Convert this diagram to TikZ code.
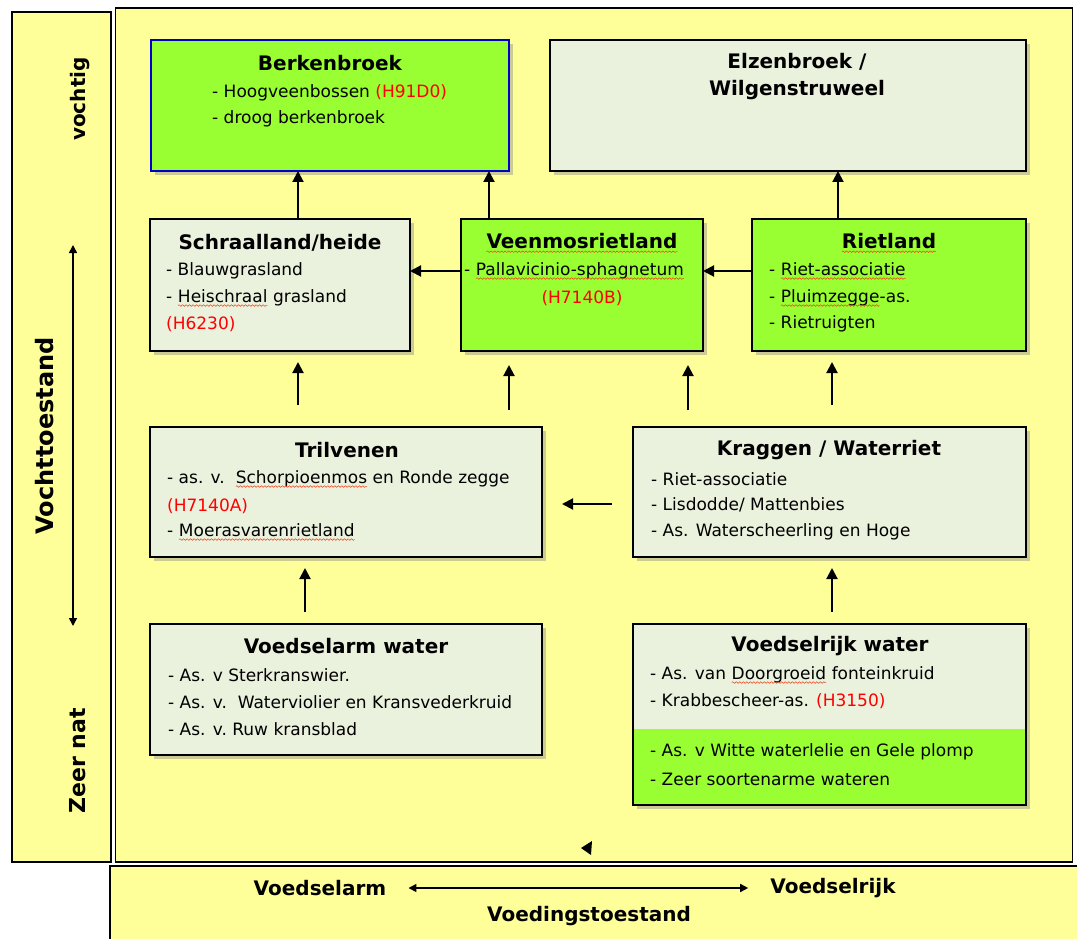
\documentclass[tikz,border=0pt]{standalone}
\usepackage{fontspec}
\setmainfont{DejaVu Sans}
\usetikzlibrary{arrows.meta,shadows,decorations.pathmorphing}
\definecolor{bgyel}{RGB}{255,255,153}
\definecolor{lgreen}{RGB}{153,255,51}
\definecolor{lgray}{RGB}{234,241,221}
\definecolor{hred}{RGB}{255,0,0}
\definecolor{wred}{RGB}{240,60,20}
\definecolor{bblue}{RGB}{0,0,204}
\newcommand\spw[1]{\tikz[baseline=(w.base)]{\node[inner sep=0pt,outer sep=0pt] (w) {#1};%
  \draw[wred,line width=0.5pt,decorate,decoration={snake,amplitude=0.8pt,segment length=3.5pt}]
   ([yshift=-3.2pt]w.base west) -- ([yshift=-3.2pt]w.base east);}}
\tikzset{
  panel/.style={draw=black,line width=1.6pt,fill=bgyel,inner sep=0pt},
  box/.style={draw=black,line width=1.8pt,inner sep=0pt,outer sep=0pt,
    drop shadow={shadow xshift=4pt,shadow yshift=-4pt,fill=black!45,opacity=0.45}},
  greenbox/.style={box,fill=lgreen},
  graybox/.style={box,fill=lgray},
  ttl/.style={font=\bfseries\fontsize{20}{24}\selectfont,inner sep=0pt},
  ln/.style={font=\fontsize{17}{20}\selectfont,anchor=west,inner sep=0pt},
  rd/.style={ln,text=hred},
  arr/.style={line width=2pt,-{Triangle[length=11pt,width=11pt]}},
  darr/.style={line width=1.5pt,{Triangle[length=8pt,width=8pt]}-{Triangle[length=8pt,width=8pt]}},
  axl/.style={font=\bfseries\fontsize{20}{24}\selectfont,inner sep=0pt}
}
\begin{document}
\begin{tikzpicture}[x=1pt,y=-1pt]
\useasboundingbox (0,0) rectangle (1077,939);
\fill[white] (0,0) rectangle (1077,939);
% panels
\node[panel,minimum width=99pt,minimum height=850pt] (left) at (61.5,437) {};
\node[panel,minimum width=957pt,minimum height=854pt] (main) at (594,435) {};
\node[panel,minimum width=970pt,minimum height=80pt] (bottom) at (595,906) {};

% boxes
\node[greenbox,draw=bblue,minimum width=358pt,minimum height=131pt] (berk) at (330,105.5) {};
\node[graybox,minimum width=476pt,minimum height=131pt] (elz) at (788,105.5) {};
\node[graybox,minimum width=260pt,minimum height=132pt] (schr) at (280,285) {};
\node[greenbox,minimum width=242pt,minimum height=132pt] (veen) at (582,285) {};
\node[greenbox,minimum width=274pt,minimum height=132pt] (riet) at (889,285) {};
\node[graybox,minimum width=392pt,minimum height=130pt] (tril) at (346,492) {};
\node[graybox,minimum width=393pt,minimum height=130pt] (krag) at (829.5,492) {};
\node[graybox,minimum width=392pt,minimum height=131pt] (varm) at (346,689.5) {};
\node[graybox,minimum width=393pt,minimum height=181pt] (vrijk) at (829.5,714.5) {};
\fill[lgreen] (vrijk.west |- 0,729) rectangle (vrijk.south east);
\draw[line width=1.8pt] (vrijk.north west) rectangle (vrijk.south east);

% texts Berkenbroek
\node[ttl] (berkT) at (330,63) {Berkenbroek};
\node[ln] (berk1) at (212,93) {- Hoogveenbossen \textcolor{hred}{(H91D0)}};
\node[ln] (berk2) at (212,119) {- droog berkenbroek};
% Elzenbroek
\node[ttl,align=center] (elzT) at (797,77) {Elzenbroek /\\[3pt]Wilgenstruweel};
% Schraalland
\node[ttl] (schrT) at (280,243) {Schraalland/heide};
\node[ln] (schr1) at (166,271) {- Blauwgrasland};
\node[ln] (schr2) at (166,298) {- \spw{Heischraal} grasland};
\node[rd] (schr3) at (166,324) {(H6230)};
% Veenmos
\node[ttl] (veenT) at (582,243) {\spw{Veenmosrietland}};
\node[ln] (veen1) at (464,271) {- \spw{Pallavicinio-sphagnetum}};
\node[ttl,font=\fontsize{17}{20}\selectfont,text=hred] (veen2) at (582,298) {(H7140B)};
% Rietland
\node[ttl] (rietT) at (889,243) {\spw{Rietland}};
\node[ln] (riet1) at (769,271) {- \spw{Riet-associatie}};
\node[ln] (riet2) at (769,298) {- \spw{Pluimzegge}-as.};
\node[ln] (riet3) at (769,324) {- Rietruigten};
% Trilvenen
\node[ttl] (trilT) at (347,450) {Trilvenen};
\node[ln] (tril1) at (167,479) {- as. v.\ \ \spw{Schorpioenmos} en Ronde zegge};
\node[rd] (tril2) at (167,506) {(H7140A)};
\node[ln] (tril3) at (167,532) {- \spw{Moerasvarenrietland}};
% Kraggen
\node[ttl] (kragT) at (829,450) {Kraggen / Waterriet};
\node[ln] (krag1) at (651,479) {- Riet-associatie};
\node[ln] (krag2) at (651,505) {- Lisdodde/ Mattenbies};
\node[ln] (krag3) at (651,532) {- As. Waterscheerling en Hoge};
% Voedselarm water
\node[ttl] (varmT) at (346,646) {Voedselarm water};
\node[ln] (varm1) at (168,675) {- As. v Sterkranswier.};
\node[ln] (varm2) at (168,702) {- As. v.\ \ Waterviolier en Kransvederkruid};
\node[ln] (varm3) at (168,729) {- As. v.\ Ruw kransblad};
% Voedselrijk water
\node[ttl] (vrijkT) at (830,646) {Voedselrijk water};
\node[ln] (vrijk1) at (650,675) {- As. van \spw{Doorgroeid} fonteinkruid};
\node[ln] (vrijk2) at (650,701) {- Krabbescheer-as. \textcolor{hred}{(H3150)}};
\node[ln] (vrijk3) at (650,752) {- As. v\ Witte waterlelie en Gele plomp};
\node[ln] (vrijk4) at (650,779) {- Zeer soortenarme wateren};

% arrows top row
\draw[arr] (schr.north -| 298,0) -- (berk.south -| 298,0);
\draw[arr] (veen.north -| 489,0) -- (berk.south -| 489,0);
\draw[arr] (riet.north -| 838,0) -- (elz.south -| 838,0);
\draw[arr] (veen.west |- 0,271) -- (schr.east |- 0,271);
\draw[arr] (riet.west |- 0,271) -- (veen.east |- 0,271);
% arrows middle
\draw[arr,shorten <=22pt,shorten >=11pt] (tril.north -| 298,0) -- (schr.south -| 298,0);
\draw[arr,shorten <=17pt,shorten >=14pt] (tril.north -| 509,0) -- (veen.south -| 509,0);
\draw[arr,shorten <=17pt,shorten >=14pt] (krag.north -| 688,0) -- (veen.south -| 688,0);
\draw[arr,shorten <=22pt,shorten >=11pt] (krag.north -| 832,0) -- (riet.south -| 832,0);
\draw[arr,shorten <=21pt,shorten >=20pt] (krag.west |- 0,504) -- (tril.east |- 0,504);
% arrows bottom
\draw[arr,shorten <=12pt,shorten >=11pt] (varm.north -| 305,0) -- (tril.south -| 305,0);
\draw[arr,shorten <=12pt,shorten >=11pt] (vrijk.north -| 832,0) -- (krag.south -| 832,0);
% stray arrowhead
\fill (581,848) -- (592,841) -- (591,855) -- cycle;

% left axis
\node[axl,rotate=90] (vocht) at (80,99) {vochtig};
\node[axl,rotate=90,font=\bfseries\fontsize{24}{28}\selectfont] (vtoe) at (45,436) {Vochttoestand};
\node[axl,rotate=90,font=\bfseries\fontsize{22}{26}\selectfont] (zeer) at (78,761) {Zeer nat};
\coordinate (vtop) at (73,245);
\coordinate (vbot) at (73,626);
\draw[darr] (vtop) -- (vbot);
% bottom axis
\node[axl] (varmL) at (320,888) {Voedselarm};
\node[axl] (vrijkL) at (833,888) {Voedselrijk};
\node[axl] (vvoed) at (589,916) {Voedingstoestand};
\draw[darr] ([xshift=-22pt]vrijkL.west) -- ([xshift=22pt]varmL.east);
\end{tikzpicture}
\end{document}
